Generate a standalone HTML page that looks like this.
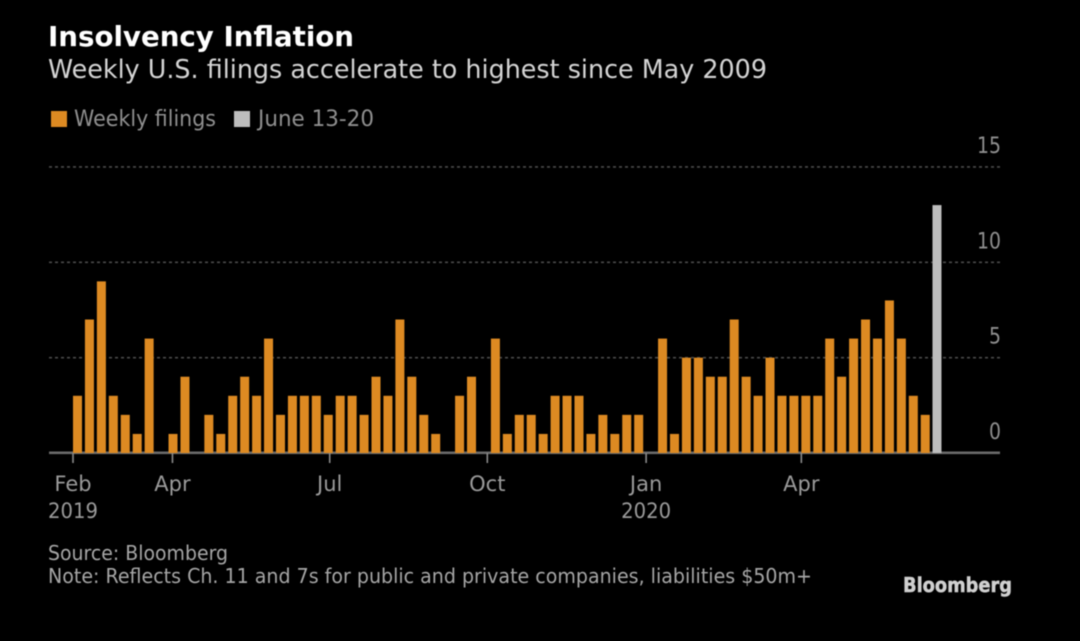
<!DOCTYPE html>
<html lang="en">
<head>
<meta charset="utf-8">
<title>Insolvency Inflation</title>
<style>
  html, body { margin: 0; padding: 0; background: #000; }
  body { width: 1080px; height: 641px; overflow: hidden; }
  svg { display: block; filter: blur(0.55px); }
  text { font-family: "DejaVu Sans", "Liberation Sans", sans-serif; }
</style>
</head>
<body>
<svg id="chart" xmlns="http://www.w3.org/2000/svg" width="1080" height="641" viewBox="0 0 1080 641">
  <rect x="0" y="0" width="1080" height="641" fill="#000"/>
  <text x="48" y="46" font-size="28" font-weight="700" fill="#fff" textLength="306" lengthAdjust="spacingAndGlyphs">Insolvency Inflation</text>
  <text x="48" y="78" font-size="26" fill="#d4d4d4" textLength="719" lengthAdjust="spacingAndGlyphs">Weekly U.S. filings accelerate to highest since May 2009</text>

  <g>
    <rect x="51" y="111" width="16" height="16" fill="#dd8a22"/>
    <text x="74" y="126" font-size="22" fill="#8f8f8f" textLength="142" lengthAdjust="spacingAndGlyphs">Weekly filings</text>
    <rect x="234" y="111" width="16" height="16" fill="#bdbdbd"/>
    <text x="258" y="126" font-size="22" fill="#8f8f8f" textLength="116" lengthAdjust="spacingAndGlyphs">June 13-20</text>
  </g>

  <g id="grid"></g>
  <g id="axis"></g>
  <g id="bars"></g>
  <g id="yticks"></g>

  <text x="48" y="560" font-size="20" fill="#a6a6a6" textLength="180" lengthAdjust="spacingAndGlyphs">Source: Bloomberg</text>
  <text x="48" y="583" font-size="20" fill="#a6a6a6" textLength="764" lengthAdjust="spacingAndGlyphs">Note: Reflects Ch. 11 and 7s for public and private companies, liabilities $50m+</text>
  <text x="903" y="592" font-size="20" font-weight="700" fill="#d0d0d0" stroke="#d0d0d0" stroke-width="0.5" textLength="109" lengthAdjust="spacingAndGlyphs">Bloomberg</text>
</svg>
<script>
// Weekly filings, one value per week starting Feb 2019
const weeklyFilings = [3,7,9,3,2,1,6,0,1,4,0,2,1,3,4,3,6,2,3,3,3,2,3,3,2,4,3,7,4,2,1,0,3,4,0,6,1,2,2,1,3,3,3,1,2,1,2,2,0,6,1,5,5,4,4,7,4,3,5,3,3,3,3,6,4,6,7,6,8,6,3,2];
// Highlighted final week
const juneFilings = [13];
const yTickValues = [0,5,10,15];
const monthLabels = ["Feb","Apr","Jul","Oct","Jan","Apr"];
const monthWeeks = [0,8.33,21.5,34.7,48,61];
const yearLabels = ["2019","2020"];
const yearMonthIndex = [0,4];

const NS = "http://www.w3.org/2000/svg";
function xScale(week) { return 73 + week * 11.94; }
function yScale(value) { return 453 - value * 19.07; }
function make(parent, tag, attrs, txt) {
  const el = document.createElementNS(NS, tag);
  for (const k in attrs) el.setAttribute(k, attrs[k]);
  if (txt !== undefined) el.textContent = txt;
  parent.appendChild(el);
  return el;
}

const gridG = document.getElementById("grid");
const barsG = document.getElementById("bars");
const axisG = document.getElementById("axis");
const yG = document.getElementById("yticks");

yTickValues.forEach(function (v) {
  if (v !== 0) {
    const line = make(gridG, "line", {x1: 49, x2: 1000, y1: yScale(v), y2: yScale(v), stroke: "#4a4a4a", "stroke-width": 1.6, "stroke-dasharray": "3 3"});
    
    
  }
  const text = String(v);
  const label = make(yG, "text", {x: 1001, y: yScale(v) - 14, "font-size": 22, fill: "#8f8f8f", "text-anchor": "end", textLength: text.length * 12, lengthAdjust: "spacingAndGlyphs"}, text);
  
  
});

const axisLine = make(axisG, "rect", {x: 49, y: 451.5, width: 951, height: 2.6, fill: "#6a6a6a"});



const BAR_W = 9;
weeklyFilings.forEach(function (v, i) {
  if (v <= 0) return;
  const bar = make(barsG, "rect", {x: xScale(i), y: yScale(v), width: BAR_W, height: 453 - yScale(v), fill: "#dd8a22"});
  
  
});
juneFilings.forEach(function (v, j) {
  const i = weeklyFilings.length + j;
  const bar = make(barsG, "rect", {x: xScale(i) - 0.2, y: yScale(v), width: BAR_W, height: 453 - yScale(v), fill: "#bdbdbd"});
  
  
});

monthLabels.forEach(function (m, i) {
  const x = xScale(monthWeeks[i]);
  const tick = make(axisG, "rect", {x: x - 0.8, y: 453, width: 1.6, height: 10, fill: "#8a8a8a"});
  
  
  const label = make(axisG, "text", {x: x, y: 491, "font-size": 21, fill: "#9a9a9a", "text-anchor": "middle"}, m);
  
  
});
yearLabels.forEach(function (y, i) {
  const x = xScale(monthWeeks[yearMonthIndex[i]]);
  const label = make(axisG, "text", {x: x, y: 518, "font-size": 21, fill: "#9a9a9a", "text-anchor": "middle", textLength: 50, lengthAdjust: "spacingAndGlyphs"}, y);
  
  
});
</script>
</body>
</html>
